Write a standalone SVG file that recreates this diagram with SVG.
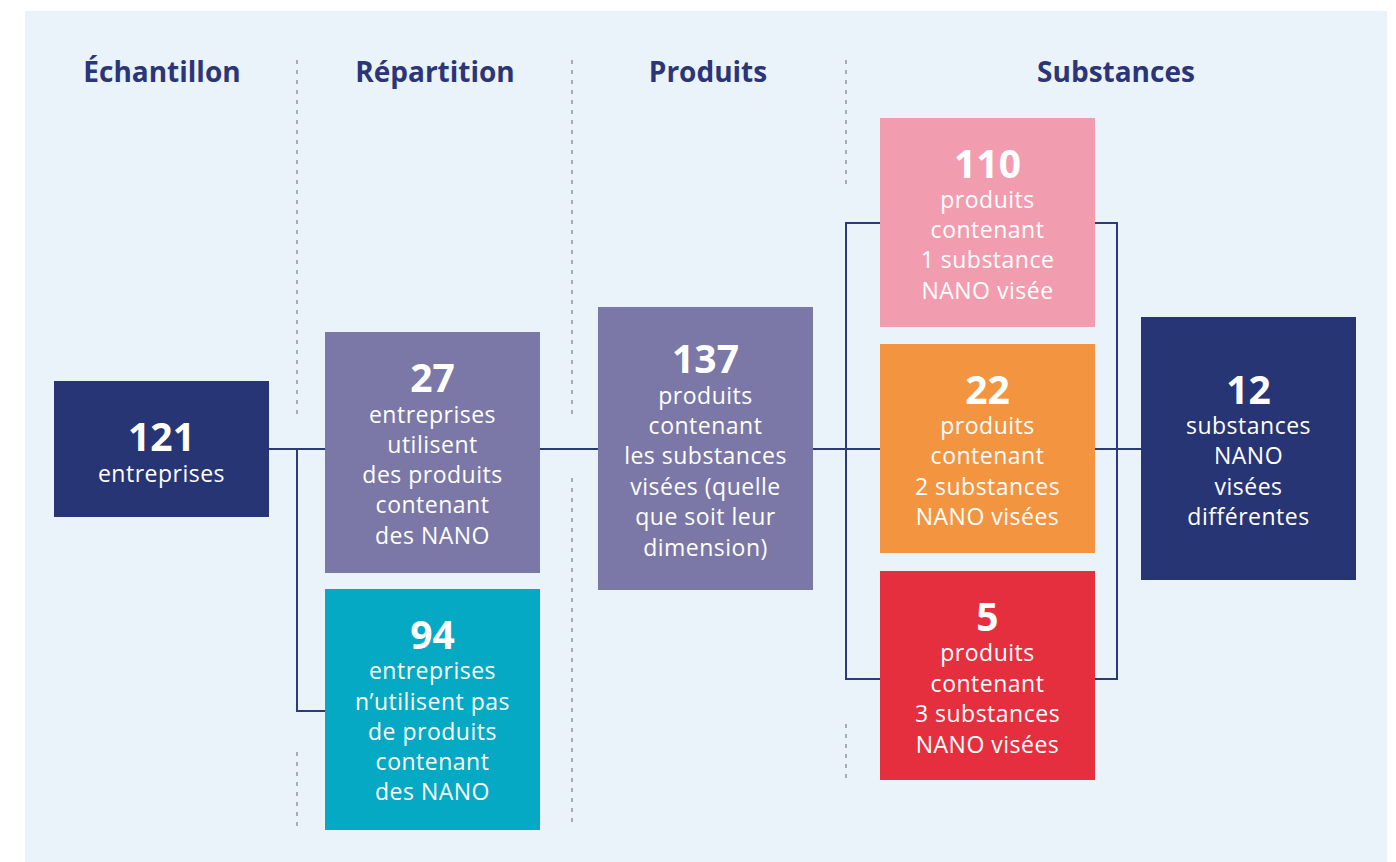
<svg xmlns="http://www.w3.org/2000/svg" width="1396" height="862" viewBox="0 0 1396 862">
<style>
.bg{fill:#EAF3FA}
.hd{font-family:"Open Sans","Noto Sans",sans-serif;font-weight:700;font-size:28px;fill:#2B3577;text-anchor:middle}
.num{font-family:"Open Sans","Noto Sans",sans-serif;font-weight:700;font-size:39px;fill:#FFFFFF;text-anchor:middle}
.tx{font-family:"Open Sans","Noto Sans",sans-serif;font-size:23px;letter-spacing:0.5px;fill:#FFFFFF;text-anchor:middle}
.dash{stroke:#9A9A9A;stroke-width:1.6;stroke-dasharray:4 6;fill:none}
.con{stroke:#2D3A7A;stroke-width:2;fill:none}
.navy{fill:#283574}
.purple{fill:#7B78A7}
.teal{fill:#05A9C4}
.pink{fill:#F29DAF}
.orange{fill:#F39540}
.red{fill:#E62F3E}
</style>
<rect class="bg" x="25" y="11" width="1362" height="851"/>
<g id="headers">
<text class="hd" x="162" y="82">Échantillon</text>
<text class="hd" x="435" y="82">Répartition</text>
<text class="hd" x="708" y="82">Produits</text>
<text class="hd" x="1116" y="82">Substances</text>
</g>
<g id="separators">
<path class="dash" d="M297 60V415M297 752V830"/>
<path class="dash" d="M572 60V415M572 478V825"/>
<path class="dash" d="M846 60V184M846 724V784"/>
</g>
<g id="connectors">
<path class="con" d="M269 449H325"/>
<path class="con" d="M297 449V711H325"/>
<path class="con" d="M540 449H598"/>
<path class="con" d="M813 449H880"/>
<path class="con" d="M880 223H846V679H880"/>
<path class="con" d="M1095 223H1117V679H1095"/>
<path class="con" d="M1095 449H1141"/>
</g>
<g id="n121">
<rect class="navy" x="54" y="381" width="215" height="136"/>
<text class="num" x="161.5" y="451">121</text>
<text class="tx" x="161.5" y="482">entreprises</text>
</g>
<g id="n27">
<rect class="purple" x="325" y="332" width="215" height="241"/>
<text class="num" x="432.5" y="392">27</text>
<text class="tx" x="432.5" y="423">entreprises</text>
<text class="tx" x="432.5" y="453">utilisent</text>
<text class="tx" x="432.5" y="483">des produits</text>
<text class="tx" x="432.5" y="513">contenant</text>
<text class="tx" x="432.5" y="544">des NANO</text>
</g>
<g id="n94">
<rect class="teal" x="325" y="589" width="215" height="241"/>
<text class="num" x="432.5" y="649">94</text>
<text class="tx" x="432.5" y="679">entreprises</text>
<text class="tx" x="432.5" y="710">n’utilisent pas</text>
<text class="tx" x="432.5" y="740">de produits</text>
<text class="tx" x="432.5" y="770">contenant</text>
<text class="tx" x="432.5" y="800">des NANO</text>
</g>
<g id="n137">
<rect class="purple" x="598" y="307" width="215" height="283"/>
<text class="num" x="705.5" y="373">137</text>
<text class="tx" x="705.5" y="404">produits</text>
<text class="tx" x="705.5" y="434">contenant</text>
<text class="tx" x="705.5" y="464">les substances</text>
<text class="tx" x="705.5" y="495">visées (quelle</text>
<text class="tx" x="705.5" y="525">que soit leur</text>
<text class="tx" x="705.5" y="556">dimension)</text>
</g>
<g id="n110">
<rect class="pink" x="880" y="118" width="215" height="209"/>
<text class="num" x="987.5" y="178">110</text>
<text class="tx" x="987.5" y="208">produits</text>
<text class="tx" x="987.5" y="238">contenant</text>
<text class="tx" x="987.5" y="268">1 substance</text>
<text class="tx" x="987.5" y="299">NANO visée</text>
</g>
<g id="n22">
<rect class="orange" x="880" y="344" width="215" height="209"/>
<text class="num" x="987.5" y="404">22</text>
<text class="tx" x="987.5" y="434">produits</text>
<text class="tx" x="987.5" y="464">contenant</text>
<text class="tx" x="987.5" y="495">2 substances</text>
<text class="tx" x="987.5" y="525">NANO visées</text>
</g>
<g id="n5">
<rect class="red" x="880" y="571" width="215" height="209"/>
<text class="num" x="987.5" y="631">5</text>
<text class="tx" x="987.5" y="661">produits</text>
<text class="tx" x="987.5" y="692">contenant</text>
<text class="tx" x="987.5" y="722">3 substances</text>
<text class="tx" x="987.5" y="753">NANO visées</text>
</g>
<g id="n12">
<rect class="navy" x="1141" y="317" width="215" height="263"/>
<text class="num" x="1248.5" y="404">12</text>
<text class="tx" x="1248.5" y="434">substances</text>
<text class="tx" x="1248.5" y="464">NANO</text>
<text class="tx" x="1248.5" y="495">visées</text>
<text class="tx" x="1248.5" y="525">différentes</text>
</g>
</svg>
